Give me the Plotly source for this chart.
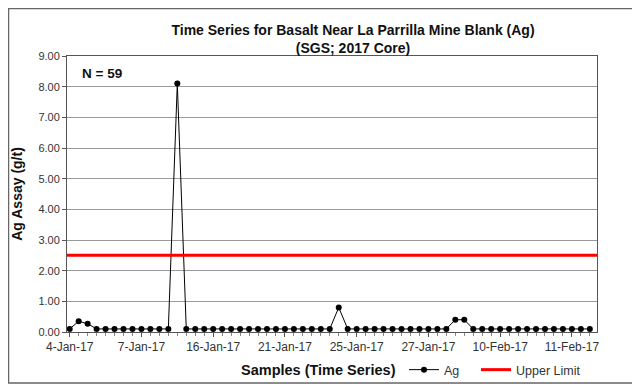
import plotly.graph_objects as go

# sample number (1..59) and Ag assay values in g/t
samples = list(range(1, 60))
ag = [0.1, 0.35, 0.27] + [0.1] * 9 + [8.1] + [0.1] * 17 + [0.8] + [0.1] * 12 + [0.4, 0.4] + [0.1] * 14
upper_limit = [2.5] * len(samples)

label_samples = [1, 9, 17, 25, 33, 41, 49, 57]
label_dates = ["4-Jan-17", "7-Jan-17", "16-Jan-17", "21-Jan-17",
               "25-Jan-17", "27-Jan-17", "10-Feb-17", "11-Feb-17"]

# the page body adds an 8px margin, so the figure is drawn 8px in from the window corner
OFF = 8
W, H = 640 - OFF, 385 - OFF
L, R, T, B = 67 - OFF, 43, 56 - OFF, 53
pw, ph = W - L - R, H - T - B


def px_x(x):
    return (x - OFF - L) / pw


def px_y(y):
    return (H + OFF - B - y) / ph


font = "Liberation Sans, Arial, sans-serif"
x_range = [samples[0] - 0.3, samples[-1] + 0.8]

fig = go.Figure()
fig.add_trace(go.Scatter(
    x=samples, y=ag, name="Ag", mode="lines+markers",
    line=dict(color="black", width=1),
    marker=dict(color="black", size=6),
    legend="legend",
))
fig.add_trace(go.Scatter(
    x=x_range, y=[upper_limit[0], upper_limit[-1]],
    name="Upper Limit", mode="lines",
    line=dict(color="#ff0000", width=3),
    legend="legend2",
))

legend_style = dict(
    orientation="h", xanchor="left", yanchor="middle",
    font=dict(size=12.5, color="#333"), bgcolor="rgba(0,0,0,0)",
)

fig.update_layout(
    width=W, height=H,
    margin=dict(l=L, r=R, t=T, b=B, autoexpand=False),
    paper_bgcolor="white", plot_bgcolor="white",
    font=dict(family=font, size=11, color="#333"),
    title=dict(
        text="<b>Time Series for Basalt Near La Parrilla Mine Blank (Ag)<br>(SGS; 2017 Core)</b>",
        x=px_x(353), xref="paper", xanchor="center", y=1 - (35 - OFF) / H, yanchor="middle",
        font=dict(size=14, color="#111"),
    ),
    showlegend=True,
    legend=dict(x=px_x(404), y=px_y(370), **legend_style),
    legend2=dict(x=px_x(476), y=px_y(370), **legend_style),
    annotations=[
        dict(text="<b>N = 59</b>", x=px_x(80), y=px_y(73), xref="paper", yref="paper",
             xanchor="left", yanchor="middle", showarrow=False, font=dict(size=13.5, color="#111")),
        dict(text="<b>Samples (Time Series)</b>", x=px_x(318), y=px_y(370), xref="paper", yref="paper",
             xanchor="center", yanchor="middle", showarrow=False, font=dict(size=14.5, color="#111")),
    ],
    shapes=[
        dict(type="rect", xref="paper", yref="paper",
             x0=px_x(OFF + 0.5), x1=px_x(638), y0=px_y(383), y1=px_y(OFF + 0.5),
             line=dict(color="#666", width=1.5)),
    ],
)

fig.update_xaxes(
    range=x_range, automargin=False,
    tickvals=label_samples, ticktext=label_dates,
    tickfont=dict(size=12, color="#333"),
    showgrid=False, zeroline=False,
    showline=True, linecolor="#555", linewidth=1, mirror=True,
    ticks="outside", ticklen=4, tickcolor="#555",
    minor=dict(dtick=1, ticks="outside", ticklen=3, tickcolor="#888"),
)
fig.update_yaxes(
    range=[0, 9], dtick=1, tickformat=".2f", automargin=False,
    tickfont=dict(size=11, color="#333"),
    showgrid=True, gridcolor="#9a9a9a", gridwidth=1, zeroline=False,
    showline=True, linecolor="#555", linewidth=1, mirror=True,
    ticks="outside", ticklen=4, tickcolor="#555",
    title=dict(text="<b>Ag Assay (g/t)</b>", font=dict(size=14, color="#111"), standoff=12),
)

fig.write_html("out.html")
